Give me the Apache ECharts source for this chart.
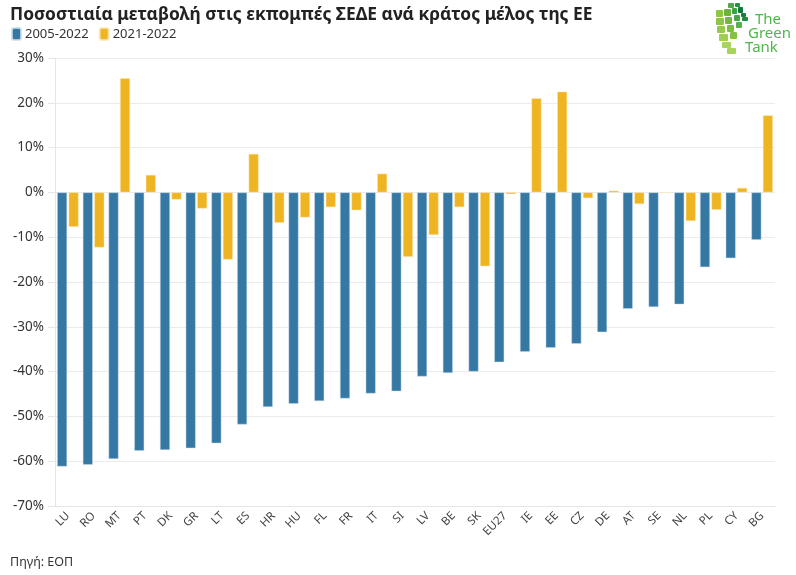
<!DOCTYPE html>
<html>
<head>
<meta charset="utf-8">
<script src="https://cdn.jsdelivr.net/npm/echarts@6/dist/echarts.min.js"></script>
<style>
  html, body { margin: 0; padding: 0; background: #fff; }
  #chart { width: 796px; height: 575px; }
</style>
</head>
<body>
<div id="chart"></div>
<script>
const countries = ['LU', 'RO', 'MT', 'PT', 'DK', 'GR', 'LT', 'ES', 'HR', 'HU', 'FL', 'FR', 'IT', 'SI',
  'LV', 'BE', 'SK', 'EU27', 'IE', 'EE', 'CZ', 'DE', 'AT', 'SE', 'NL', 'PL', 'CY', 'BG'];
const change2005_2022 = [-61.2, -60.8, -59.5, -57.7, -57.5, -57.1, -56.0, -51.8, -47.9, -47.2, -46.6, -46.0, -44.9, -44.4,
  -41.1, -40.3, -40.0, -37.9, -35.6, -34.7, -33.8, -31.2, -26.0, -25.6, -25.0, -16.7, -14.7, -10.6];
const change2021_2022 = [-7.7, -12.3, 25.5, 3.9, -1.6, -3.6, -15.0, 8.6, -6.8, -5.6, -3.3, -4.0, 4.2, -14.4,
  -9.5, -3.3, -16.5, -0.4, 21.0, 22.5, -1.3, 0.4, -2.6, -0.1, -6.4, -3.9, 1.0, 17.2];

const BLUE = '#3578a3';
const ORANGE = '#efb421';
const FONT = '"Noto Sans", "Open Sans", sans-serif';

const chart = echarts.init(document.getElementById('chart'));

// logo: squares laid out as a curved fan, dark green at the top right, light at the bottom left
const logoSquares = [
  [716, 10, 7, 7, '#8dc63f'], [716, 18, 8, 7, '#8dc63f'], [717, 26, 8, 7, '#97ca47'],
  [719, 34, 9, 7, '#9fcf4f'], [722, 42, 9, 6, '#a8d45a'], [727, 48, 9, 6, '#a8d45a'],
  [724, 9, 7, 7, '#6cb33f'], [725, 17, 7, 7, '#74b841'], [727, 25, 7, 7, '#7dbd42'], [730, 32, 7, 7, '#86c144'],
  [728, 3, 6, 5, '#4da846'], [732, 8, 5, 6, '#3aa346'], [734, 15, 6, 6, '#45a846'], [736, 22, 6, 6, '#58b048'],
  [735, 3, 5, 4, '#1f9444'], [738, 7, 5, 6, '#0b7a3b'], [741, 13, 5, 4, '#117f3d'], [742, 17, 6, 4, '#1b8c41']
].map(([x, y, w, h, c]) => ({
  type: 'rect',
  shape: { x: x, y: y, width: w, height: h, r: 1 },
  style: { fill: c }
}));

const logoText = [['The', 755, 12], ['Green', 748, 26], ['Tank', 745, 40]].map(([t, x, y]) => ({
  type: 'text',
  x: x,
  y: y,
  style: { text: t, fontSize: 15, fill: '#4cb848', fontFamily: FONT }
}));

const option = {
  animation: false,
  textStyle: { fontFamily: FONT },
  title: {
    text: 'Ποσοστιαία μεταβολή στις εκπομπές ΣΕΔΕ ανά κράτος μέλος της ΕΕ',
    left: 5,
    top: 2,
    textStyle: { fontSize: 17.4, fontWeight: 'bold', color: '#222', fontFamily: FONT }
  },
  legend: {
    left: 11,
    top: 27,
    padding: 0,
    itemWidth: 9,
    itemHeight: 12,
    itemGap: 10,
    icon: 'roundRect',
    textStyle: { fontSize: 13, color: '#333', padding: [0, 0, 0, -1] },
    data: ['2005-2022', '2021-2022']
  },
  grid: {
    left: 55,
    right: 21,
    top: 58,
    bottom: 69
  },
  xAxis: {
    type: 'category',
    data: countries,
    axisLine: { onZero: false, lineStyle: { color: '#e6e6e6' } },
    axisTick: { alignWithLabel: true, length: 5, lineStyle: { color: '#e6e6e6' } },
    axisLabel: { rotate: 45, fontSize: 11.5, color: '#444', margin: 8 }
  },
  yAxis: {
    type: 'value',
    min: -70,
    max: 30,
    interval: 10,
    axisLine: { show: true, lineStyle: { color: '#e6e6e6' } },
    axisTick: { show: true, length: 7, lineStyle: { color: '#e6e6e6' } },
    axisLabel: { formatter: '{value}%', fontSize: 13.5, color: '#333', margin: 11 },
    splitLine: { lineStyle: { color: '#ebebeb' } }
  },
  series: [
    {
      name: '2005-2022',
      type: 'bar',
      data: change2005_2022,
      barWidth: 10,
      barGap: '15%',
      itemStyle: { color: BLUE, borderColor: 'rgba(200,220,235,0.8)', borderWidth: 0.6 }
    },
    {
      name: '2021-2022',
      type: 'bar',
      data: change2021_2022,
      barWidth: 10,
      itemStyle: { color: ORANGE, borderColor: 'rgba(250,230,180,0.8)', borderWidth: 0.6 }
    }
  ],
  graphic: [
    {
      type: 'text',
      left: 10,
      top: 556,
      style: { text: 'Πηγή: ΕΟΠ', fontSize: 12.5, fill: '#333', fontFamily: FONT }
    }
  ].concat(logoText, logoSquares)
};

chart.setOption(option);
</script>
</body>
</html>
